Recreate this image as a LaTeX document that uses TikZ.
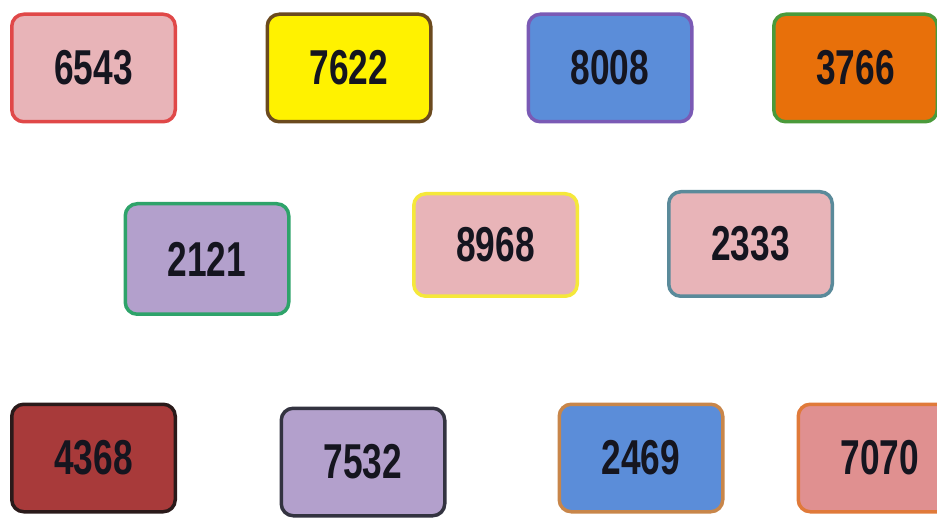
\documentclass[tikz,border=0pt]{standalone}
\usepackage{fontspec}
\setmainfont{Liberation Sans}
\usepackage{xcolor}
\definecolor{pinkfill}{HTML}{E8B4B8}
\definecolor{lavfill}{HTML}{B3A0CC}
\definecolor{bluefill}{HTML}{5B8DD9}
\definecolor{orangefill}{HTML}{E8700A}
\definecolor{redfill}{HTML}{A83A3A}
\definecolor{salmonfill}{HTML}{E09090}
\definecolor{numtext}{HTML}{15151F}
\newcommand{\num}[1]{\scalebox{0.72}[1]{#1}}

\begin{document}
\begin{tikzpicture}[x=1pt,y=-1pt,
  card/.style={draw,rounded corners=12pt,line width=3.5pt,minimum width=163.5pt,minimum height=107.5pt,
    inner sep=0pt,text=numtext,font=\fontsize{49}{49}\selectfont\bfseries}]
 \useasboundingbox (0,0) rectangle (937,521);
 % top row
 \node[card,fill=pinkfill,draw={rgb,255:red,224;green,72;blue,72}] (c6543) at(93.5,68){\num{6543}};
 \node[card,fill=yellow,draw={rgb,255:red,107;green,74;blue,30}] (c7622) at(349,68){\num{7622}};
 \node[card,fill=bluefill,draw={rgb,255:red,122;green,90;blue,181}] (c8008) at(610,68){\num{8008}};
 \node[card,fill=orangefill,draw={rgb,255:red,74;green,154;blue,58}] (c3766) at(855.5,68){\num{3766}};
 % middle row
 \node[card,fill=lavfill,draw={rgb,255:red,46;green,163;blue,106},minimum height=110.5pt] (c2121) at(207,259){\num{2121}};
 \node[card,fill=pinkfill,draw={rgb,255:red,245;green,232;blue,58},minimum height=102.5pt] (c8968) at(495.5,245){\num{8968}};
 \node[card,fill=pinkfill,draw={rgb,255:red,90;green,138;blue,154},minimum height=104.5pt] (c2333) at(750.5,244){\num{2333}};
 % bottom row
 \node[card,fill=redfill,draw={rgb,255:red,42;green,26;blue,26}] (c4368) at(93.5,458){\num{4368}};
 \node[card,fill=lavfill,draw={rgb,255:red,51;green,51;blue,64}] (c7532) at(363,462){\num{7532}};
 \node[card,fill=bluefill,draw={rgb,255:red,200;green,134;blue,74}] (c2469) at(641,458){\num{2469}};
 \node[card,fill=salmonfill,draw={rgb,255:red,224;green,122;blue,58}] (c7070) at(880,458){\num{7070}};
\end{tikzpicture}
\end{document}
